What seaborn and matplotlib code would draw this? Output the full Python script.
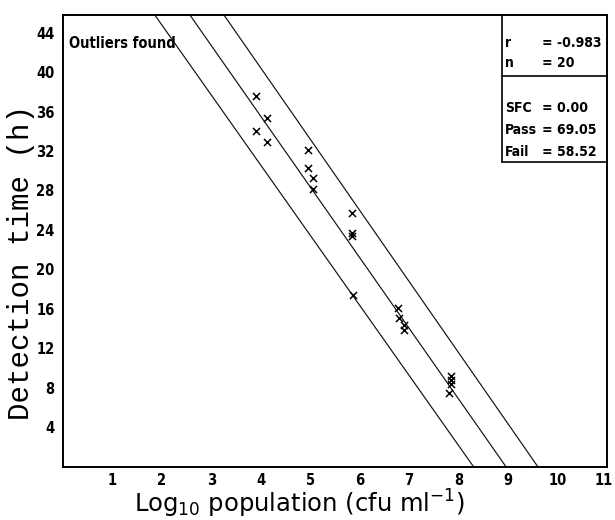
import numpy as np
import pandas as pd
import matplotlib
matplotlib.use("Agg")
import matplotlib.pyplot as plt
import matplotlib.font_manager as fm
import matplotlib.transforms as mtransforms
import seaborn as sns

# ---- data ----
log_pop = [3.90, 4.13, 3.91, 4.13, 4.95, 4.95, 5.06, 5.06, 5.85, 5.85,
           5.85, 5.87, 6.78, 6.80, 6.90, 6.90, 7.85, 7.85, 7.85, 7.81]
det_time = [37.6, 35.35, 34.0, 32.9, 32.1, 30.3, 29.3, 28.2, 25.7, 23.7,
            23.4, 17.4, 16.1, 15.1, 14.4, 13.8, 9.2, 8.8, 8.4, 7.5]

# regression line and its two bands: y = intercept + slope * x
band_names = ["lower", "fit", "upper"]
band_intercepts = [59.0, 64.2, 69.3]
band_slopes = [-7.11, -7.17, -7.22]

x_ticks = [1, 2, 3, 4, 5, 6, 7, 8, 9, 10, 11]
y_ticks = [4, 8, 12, 16, 20, 24, 28, 32, 36, 40, 44]

stat_labels = ["r", "n", "SFC", "Pass", "Fail"]
stat_values = ["-0.983", "20", "0.00", "69.05", "58.52"]
note_text = "Outliers found"

# ---- style ----
sns.set_theme(style="white")
plt.rcParams["font.family"] = ["DejaVu Sans"]


def pick_narrow_bold():
    best = None
    for f in fm.fontManager.ttflist:
        nm = f.name.lower()
        st = str(f.stretch).lower()
        narrow = ("narrow" in nm or "condensed" in nm or "condensed" in st
                  or "narrow" in st)
        try:
            w = int(f.weight)
        except (TypeError, ValueError):
            w = 700 if "bold" in str(f.weight).lower() else 400
        if narrow and w >= 600:
            if "liberation" in nm:
                score = 3
            elif "dejavu sans" in nm and "mono" not in nm:
                score = 2
            else:
                score = 1
            if best is None or score > best[0]:
                best = (score, f.fname)
    return best[1] if best else None


narrow_path = pick_narrow_bold()
if narrow_path:
    def tfont(size):
        return fm.FontProperties(fname=narrow_path, size=size)
else:
    def tfont(size):
        return fm.FontProperties(family="DejaVu Sans", weight="bold", size=size * 0.9)

W, H = 615, 520
fig = plt.figure(figsize=(W / 100, H / 100), dpi=100)
ax_l, ax_r, ax_t, ax_b = 63, 607, 15, 466.5
ax = fig.add_axes([ax_l / W, 1 - ax_b / H, (ax_r - ax_l) / W, (ax_b - ax_t) / H])

# regression line and bands
xs = np.array([0.0, 11.0])
for name, a, b in zip(band_names, band_intercepts, band_slopes):
    df = pd.DataFrame({"x": xs, "y": a + b * xs})
    sns.lineplot(data=df, x="x", y="y", color="#111111", lw=0.85, ax=ax,
                 legend=False)

# points
pts = pd.DataFrame({"log_pop": log_pop, "det_time": det_time})
sns.scatterplot(data=pts, x="log_pop", y="det_time", marker="x", color="black",
                s=26, linewidth=1.1, ax=ax, zorder=3)

ax.set_xlim(0, 11)
ax.set_ylim(0, 45.8)
ax.set_xticks(x_ticks)
ax.set_yticks(y_ticks)
ax.set_xticklabels([str(v) for v in x_ticks])
ax.set_yticklabels([str(v) for v in y_ticks])
ax.tick_params(axis="both", direction="inout", length=4, width=1,
               color="black", labelcolor="black")
ax.tick_params(axis="x", pad=3)
ax.tick_params(axis="y", pad=4)
for lab in ax.get_xticklabels() + ax.get_yticklabels():
    lab.set_fontproperties(tfont(10.5))
# keep the last x tick label inside the canvas
last = ax.get_xticklabels()[-1]
last.set_transform(last.get_transform()
                   + mtransforms.ScaledTranslation(-3.5 / 100, 0, fig.dpi_scale_trans))
ax.set_xlabel("")
ax.set_ylabel("")
for sp in ax.spines.values():
    sp.set_visible(True)
    sp.set_color("black")
    sp.set_linewidth(1.4)


def fx(px):
    return px / W


def fy(py):
    return 1 - py / H


# axis titles
fig.text(fx(21), fy(262), "Detection time (h)", rotation=90, ha="center",
         va="center", fontsize=21, family=["Liberation Mono", "DejaVu Sans Mono"],
         color="black")
fig.text(fx(299), fy(513), r"Log$_{10}$ population (cfu ml$^{-1}$)",
         ha="center", va="baseline", fontsize=17.5, color="black")

# note
fig.text(fx(69), fy(43), note_text, ha="left", va="center",
         fontproperties=tfont(10.5), color="black")

# stats box
box_l, box_div, box_b = 502, 76, 162
bx = (box_l - ax_l) / (ax_r - ax_l)
ax.plot([bx, bx], [1, (ax_b - box_b) / (ax_b - ax_t)], transform=ax.transAxes,
        color="black", lw=1.2, clip_on=False)
for py in (box_div, box_b):
    fr = (ax_b - py) / (ax_b - ax_t)
    ax.plot([bx, 1], [fr, fr], transform=ax.transAxes,
            color="black", lw=1.2, clip_on=False)
row_y = [43, 63, 108, 130, 152]
for lab, val, py in zip(stat_labels, stat_values, row_y):
    fig.text(fx(505), fy(py), lab, ha="left", va="center",
             fontproperties=tfont(10), color="black")
    fig.text(fx(542), fy(py), "= " + val, ha="left", va="center",
             fontproperties=tfont(10), color="black")

fig.savefig("out.png", dpi=100, facecolor="white")
